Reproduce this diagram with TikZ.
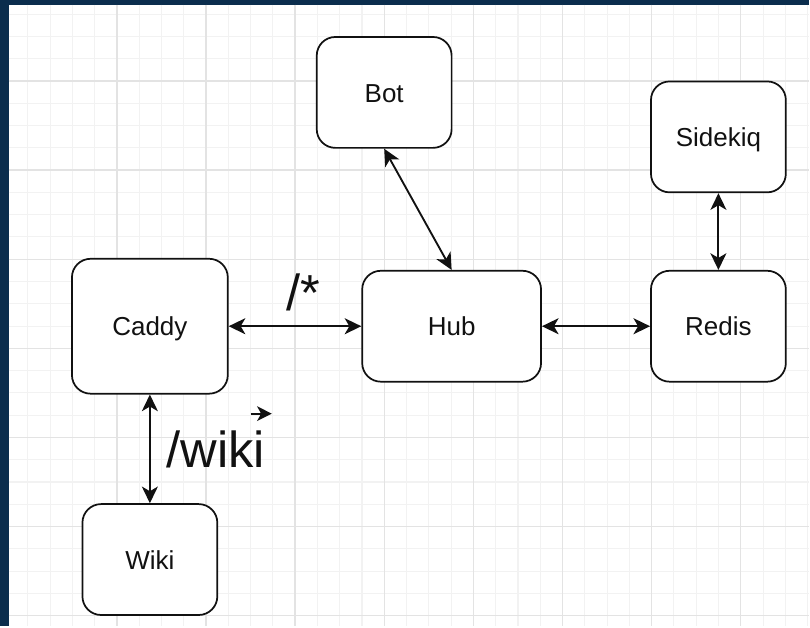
\documentclass[tikz,border=0pt]{standalone}
\usepackage{fontspec}
\setmainfont{Liberation Sans}
\usetikzlibrary{arrows.meta}
\definecolor{navy}{HTML}{0B2D4D}
\definecolor{gridminor}{HTML}{F2F2F2}
\definecolor{gridmajor}{HTML}{E3E3E3}
\definecolor{ink}{HTML}{111111}

\begin{document}
\begin{tikzpicture}[x=0.75pt,y=-0.75pt,>={Stealth[length=12.5pt,width=12pt,inset=3.5pt]},
 box/.style={draw=ink,line width=1.3pt,rounded corners=14pt,fill=white,text=ink,align=center,inner sep=0pt,text height=14.6pt,text depth=0pt,minimum width=101.25pt,minimum height=83.25pt,font=\fontsize{19.5}{23}\selectfont},
 route/.style={text=ink,inner sep=0pt,anchor=base,font=\fontsize{38}{44}\selectfont},
 link/.style={<->,draw=ink,line width=1.4pt}]
% frame and grid
\fill[navy] (0,0) rectangle (810,627);
\fill[white] (9,5) rectangle (810,627);
\foreach \k in {-4,...,31} \draw[gridminor,line width=0.8pt] ({117+22.3*\k},5) -- ({117+22.3*\k},627);
\foreach \k in {-3,...,24} \draw[gridminor,line width=0.8pt] (9,{81+22.3*\k}) -- (810,{81+22.3*\k});
\foreach \k in {0,...,7} \draw[gridmajor,line width=1pt] ({117+89.2*\k},5) -- ({117+89.2*\k},627);
\foreach \k in {0,...,6} \draw[gridmajor,line width=1pt] (9,{81+89.2*\k}) -- (810,{81+89.2*\k});
% services
\node[box,minimum width=117pt,minimum height=101.25pt] (caddy) at (150,326.5) {Caddy};
\node[box] (bot) at (384.5,92.5) {Bot};
\node[box,minimum width=134.25pt] (hub) at (452,326.5) {Hub};
\node[box] (redis) at (719,326.5) {Redis};
\node[box] (sidekiq) at (719,137) {Sidekiq};
\node[box] (wiki) at (150,560) {Wiki};
\draw[link] (caddy.east)--(hub.west);
\draw[link] (hub.east)--(redis.west);
\draw[link] (bot.south)--(hub.north);
\draw[link] (sidekiq.south)--(redis.north);
\draw[link] (caddy.south)--(wiki.north);
% routes
\node[route] (star) at (304,311) {/*};
\node[route] (wikiroute) at (216,468) {/wiki};
\coordinate (tickstart) at (251,414);
\coordinate (tickend) at (272,414);
\draw[-{Stealth[length=11pt,width=11pt,inset=3pt]},ink,line width=1.4pt] (tickstart)--(tickend);
\end{tikzpicture}
\end{document}
